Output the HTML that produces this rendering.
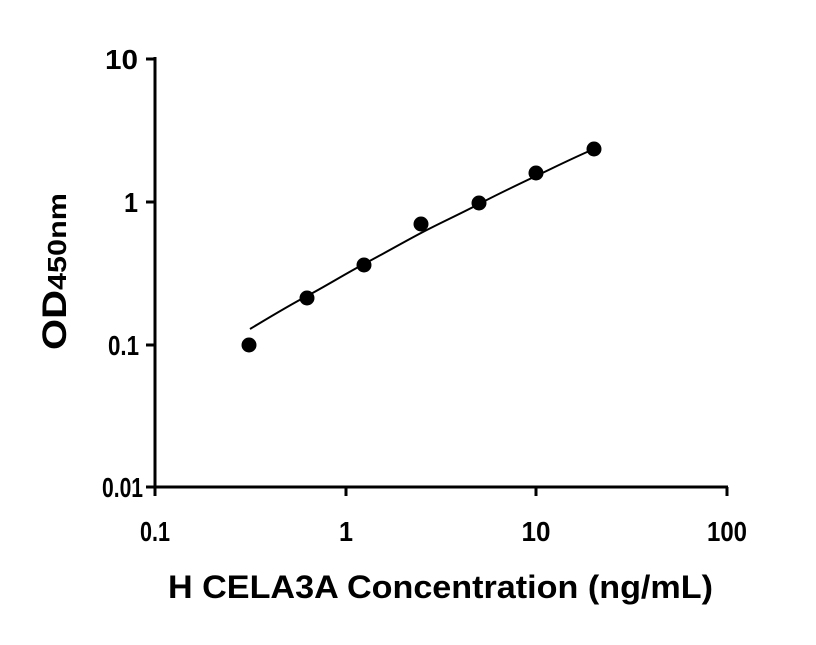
<!DOCTYPE html>
<html><head><style>body{margin:0;background:#fff}</style></head><body>
<svg width="816" height="640" xmlns="http://www.w3.org/2000/svg" font-family="Liberation Sans, Arial, sans-serif" font-weight="bold">
<g stroke="#000" stroke-width="3" fill="none">
<line x1="155" y1="57" x2="155" y2="496"/>
<line x1="146" y1="487" x2="728" y2="487"/>
<line x1="146" y1="59" x2="155" y2="59"/>
<line x1="146" y1="202" x2="155" y2="202"/>
<line x1="146" y1="345" x2="155" y2="345"/>
<line x1="346" y1="487" x2="346" y2="496"/>
<line x1="536" y1="487" x2="536" y2="496"/>
<line x1="727" y1="487" x2="727" y2="496"/>
</g>
<path d="M250,329 C270,317 288,306 307,296 S345,274 364,264 S402,243 421,233 S460,214 479,204 S517,185 536,176 S575,157 594,149" stroke="#000" stroke-width="2" fill="none"/>
<g fill="#000">
<circle cx="249" cy="345" r="7.5"/>
<circle cx="307" cy="298" r="7.5"/>
<circle cx="364" cy="265" r="7.5"/>
<circle cx="421" cy="224" r="7.5"/>
<circle cx="479" cy="203" r="7.5"/>
<circle cx="536" cy="173" r="7.5"/>
<circle cx="594" cy="149" r="7.5"/>
</g>
<g font-size="28" text-anchor="end">
<text x="138" y="69" textLength="33" lengthAdjust="spacingAndGlyphs">10</text>
<text x="138" y="212" textLength="14" lengthAdjust="spacingAndGlyphs">1</text>
<text x="139" y="355" textLength="31" lengthAdjust="spacingAndGlyphs">0.1</text>
<text x="143" y="497" textLength="41" lengthAdjust="spacingAndGlyphs">0.01</text>
</g>
<g font-size="28" text-anchor="middle">
<text x="155" y="541" textLength="30" lengthAdjust="spacingAndGlyphs">0.1</text>
<text x="346" y="541" textLength="14" lengthAdjust="spacingAndGlyphs">1</text>
<text x="536" y="541" textLength="29" lengthAdjust="spacingAndGlyphs">10</text>
<text x="727" y="541" textLength="40" lengthAdjust="spacingAndGlyphs">100</text>
</g>
<text x="168" y="598" font-size="32" textLength="545" lengthAdjust="spacingAndGlyphs">H CELA3A Concentration (ng/mL)</text>
<text transform="translate(66,350) rotate(-90)" font-size="34" textLength="157" lengthAdjust="spacingAndGlyphs">OD<tspan font-size="26">450nm</tspan></text>
</svg>
</body></html>
